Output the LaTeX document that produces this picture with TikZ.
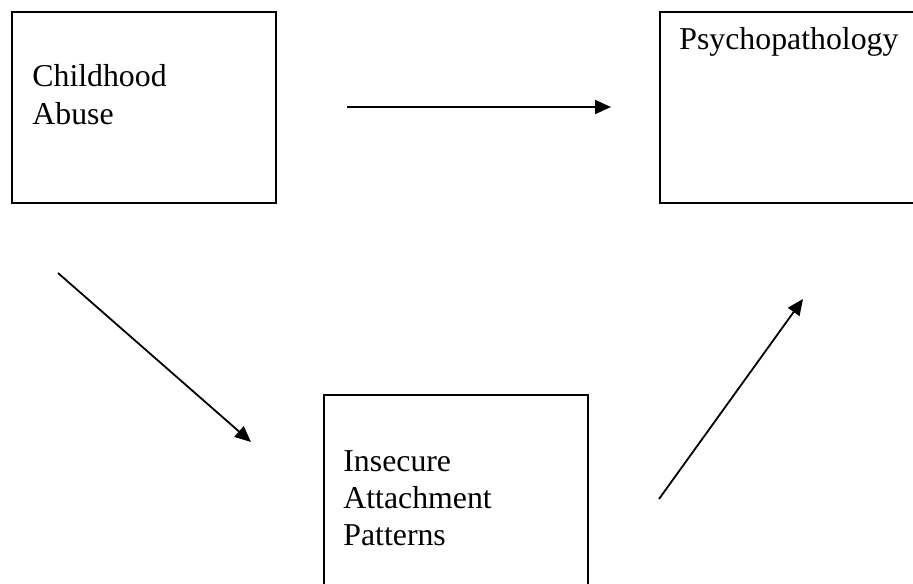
\documentclass[tikz,border=0pt]{standalone}
\usepackage{fontspec}
\setmainfont{Liberation Serif}
\usetikzlibrary{arrows.meta}

\begin{document}
\begin{tikzpicture}[x=0.5pt, y=-0.5pt, >={Triangle[length=8pt, width=7pt]},
        box/.style={draw, line width=0.9pt, minimum width=132pt, minimum height=95.5pt, anchor=north west, inner sep=0pt},
        label/.style={anchor=base west, align=left, inner sep=0pt, font=\fontsize{15.9pt}{18.5pt}\selectfont}]

        % Page size and clipping (right box runs off the page)
        \useasboundingbox (0,0) rectangle (913,583);
        \clip (0,0) rectangle (913,583);

        % Boxes
        \node[box] (abuse) at (11,11) {};
        \node[box] (psycho) at (659,11) {};
        \node[box] (attach) at (323,394) {};

        % Box texts (anchored on the baseline of the last line)
        \node[label] (abusetext) at (32,124) {Childhood\\Abuse};
        \node[label] (psychotext) at (679,50) {Psychopathology};
        \node[label] (attachtext) at (343,545) {Insecure\\Attachment\\Patterns};

        % Arrow end points
        \coordinate (direct start) at (347,107);
        \coordinate (direct end) at (611,107);
        \coordinate (path a start) at (58,273);
        \coordinate (path a end) at (251,442);
        \coordinate (path b start) at (659,499);
        \coordinate (path b end) at (803,299);

        % Arrows
        \draw[->, line width=0.9pt] (direct start) -- (direct end);
        \draw[->, line width=0.9pt] (path a start) -- (path a end);
        \draw[->, line width=0.9pt] (path b start) -- (path b end);

    \end{tikzpicture}
\end{document}
